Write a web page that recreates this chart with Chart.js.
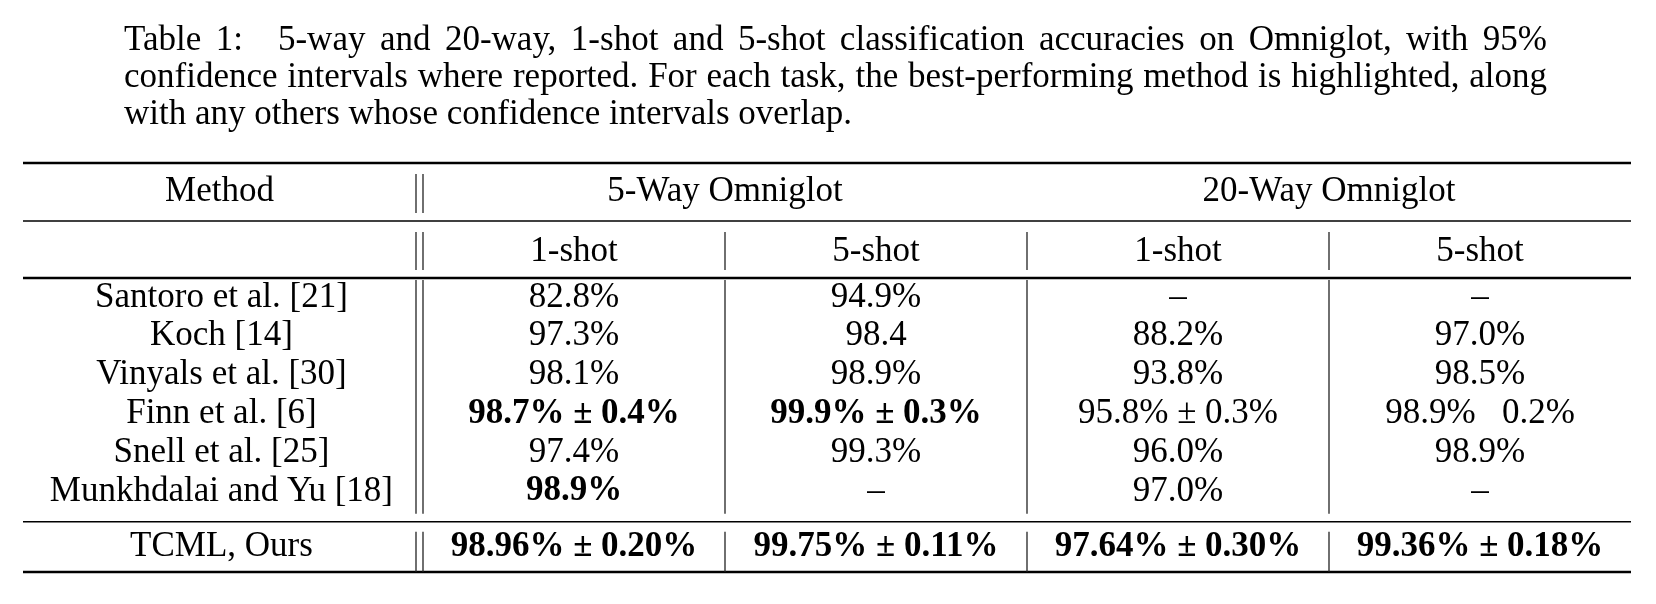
<!DOCTYPE html>
<html>
<head>
<meta charset="utf-8">
<script src="https://cdn.jsdelivr.net/npm/chart.js@4.4.1/dist/chart.umd.min.js"></script>
<style>
  html, body { margin: 0; padding: 0; background: #fff; }
  #wrap { position: relative; width: 1656px; height: 604px; overflow: hidden; }
  #caption {
    position: absolute; left: 124px; top: 20px; width: 1423px;
    font: 35px "Liberation Serif", "Times New Roman", serif; line-height: 37px; color: #000;
  }
  #caption .j { display: block; text-align: justify; text-align-last: justify; }
  #caption .l { display: block; text-align: left; }
  canvas { position: absolute; left: 0; top: 0; }
</style>
</head>
<body>
<div id="wrap">
  <canvas id="table" width="1656" height="604"></canvas>
  <div id="caption">
    <span class="j">Table 1:&emsp;5-way and 20-way, 1-shot and 5-shot classification accuracies on Omniglot, with 95%</span>
    <span class="j">confidence intervals where reported. For each task, the best-performing method is highlighted, along</span>
    <span class="l">with any others whose confidence intervals overlap.</span>
  </div>
</div>
<script>
// table data
const headerLabel = "Method"
const methods = ["Santoro et al. [21]", "Koch [14]", "Vinyals et al. [30]", "Finn et al. [6]",
  "Snell et al. [25]", "Munkhdalai and Yu [18]", "TCML, Ours"]
const groups = ["5-Way Omniglot", "20-Way Omniglot"]
const shots = ["1-shot", "5-shot", "1-shot", "5-shot"]

const way5shot1 = ["82.8%", "97.3%", "98.1%", "98.7% ± 0.4%", "97.4%", "98.9%", "98.96% ± 0.20%"]
const way5shot5 = ["94.9%", "98.4", "98.9%", "99.9% ± 0.3%", "99.3%", "–", "99.75% ± 0.11%"]
const way20shot1 = ["–", "88.2%", "93.8%", "95.8% ± 0.3%", "96.0%", "97.0%", "97.64% ± 0.30%"]
const way20shot5 = ["–", "97.0%", "98.5%", "98.9%   0.2%", "98.9%", "–", "99.36% ± 0.18%"]

// highlighted cells (best method or overlapping interval)
const best5w1 = [false, false, false, true, false, true, true]
const best5w5 = [false, false, false, true, false, false, true]
const best20w1 = [false, false, false, false, false, false, true]
const best20w5 = [false, false, false, false, false, false, true]

const columns = [way5shot1, way5shot5, way20shot1, way20shot5]
const highlights = [best5w1, best5w5, best20w1, best20w5]

// layout
const FONT = '"Liberation Serif", "Times New Roman", serif'
const TCML_GAP = 0.433
const RULE_AT = 5.78
const lastRow = methods.length - 1
function rowPos(i) {
  return i === lastRow ? i + TCML_GAP : i
}

Chart.defaults.color = "#000"
Chart.defaults.font.family = FONT
Chart.defaults.font.size = 35

// cell text + rules
const tablePlugin = {
  id: "tableRules",
  afterDatasetsDraw(chart) {
    const ctx = chart.ctx
    ctx.save()
    ctx.fillStyle = "#000"
    ctx.textAlign = "center"
    ctx.textBaseline = "middle"
    chart.data.datasets.forEach((ds, d) => {
      const meta = chart.getDatasetMeta(d)
      meta.data.forEach((pt, i) => {
        ctx.font = (highlights[d][i] ? "bold " : "") + "35px " + FONT
        ctx.fillText(columns[d][i], pt.x, pt.y)
      })
    })
    // header of the method column
    const g = chart.scales.group
    const y = chart.scales.y
    ctx.font = "35px " + FONT
    ctx.fillText(headerLabel, (y.left + chart.chartArea.left - 7) / 2, g.bottom - 8 - 21)
    ctx.restore()
  },
  afterDraw(chart) {
    const ctx = chart.ctx
    const area = chart.chartArea
    const x = chart.scales.x
    const g = chart.scales.group
    const y = chart.scales.y
    const left = y.left
    const right = area.right
    const ruleY = y.getPixelForValue(RULE_AT)
    ctx.save()
    ctx.strokeStyle = "#000"
    function hline(py, w) {
      ctx.lineWidth = w
      ctx.beginPath()
      ctx.moveTo(left, py)
      ctx.lineTo(right, py)
      ctx.stroke()
    }
    hline(g.top, 2.4)
    hline(x.top, 1.5)
    hline(area.top, 2.4)
    hline(ruleY, 1.5)
    hline(area.bottom, 2.4)

    ctx.strokeStyle = "#222"
    ctx.lineWidth = 1.3
    function vline(px, y1, y2) {
      ctx.beginPath()
      ctx.moveTo(px, y1)
      ctx.lineTo(px, y2)
      ctx.stroke()
    }
    const spans = [
      [g.top + 11, g.bottom - 8, false],
      [x.top + 11, x.bottom - 8, true],
      [area.top + 2, ruleY - 8, true],
      [ruleY + 10, area.bottom, true]
    ]
    spans.forEach(([y1, y2, inner]) => {
      vline(area.left - 7, y1, y2)
      vline(area.left, y1, y2)
      if (inner) {
        [0.5, 1.5, 2.5].forEach((v) => vline(x.getPixelForValue(v), y1, y2))
      }
    })
    ctx.restore()
  }
}

new Chart(document.querySelector("#table"), {
  type: "scatter",
  data: {
    datasets: columns.map((col, c) => ({
      label: shots[c],
      data: col.map((_, i) => ({ x: c, y: rowPos(i) })),
      pointRadius: 0,
      pointHoverRadius: 0
    }))
  },
  options: {
    responsive: false,
    devicePixelRatio: 1,
    animation: false,
    events: [],
    layout: { padding: { left: 23, right: 25, top: 163, bottom: 32 } },
    plugins: { legend: { display: false }, tooltip: { enabled: false } },
    scales: {
      x: {
        type: "linear",
        position: "top",
        min: -0.5,
        max: 3.5,
        weight: 0,
        grid: { display: false, drawTicks: false },
        border: { display: false },
        afterFit: (s) => { s.height = 57; s.paddingLeft = 0; s.paddingRight = 0 },
        afterBuildTicks: (s) => { s.ticks = shots.map((_, i) => ({ value: i })) },
        ticks: { autoSkip: false, maxRotation: 0, padding: 5, callback: (v) => shots[v] }
      },
      group: {
        type: "linear",
        axis: "x",
        position: "top",
        min: -0.5,
        max: 3.5,
        weight: 1,
        grid: { display: false, drawTicks: false },
        border: { display: false },
        afterFit: (s) => { s.height = 58; s.paddingLeft = 0; s.paddingRight = 0 },
        afterBuildTicks: (s) => { s.ticks = groups.map((_, i) => ({ value: 0.5 + 2 * i })) },
        ticks: { autoSkip: false, maxRotation: 0, padding: 8, callback: (v, i) => groups[i] }
      },
      y: {
        type: "linear",
        reverse: true,
        min: -0.5,
        max: 7.077,
        grid: { display: false, drawTicks: false },
        border: { display: false },
        afterFit: (s) => { s.width = 400; s.paddingTop = 0; s.paddingBottom = 0 },
        afterBuildTicks: (s) => { s.ticks = methods.map((_, i) => ({ value: rowPos(i) })) },
        ticks: { autoSkip: false, crossAlign: "center", padding: 30, callback: (v, i) => methods[i] }
      }
    }
  },
  plugins: [tablePlugin]
})
</script>
</body>
</html>
